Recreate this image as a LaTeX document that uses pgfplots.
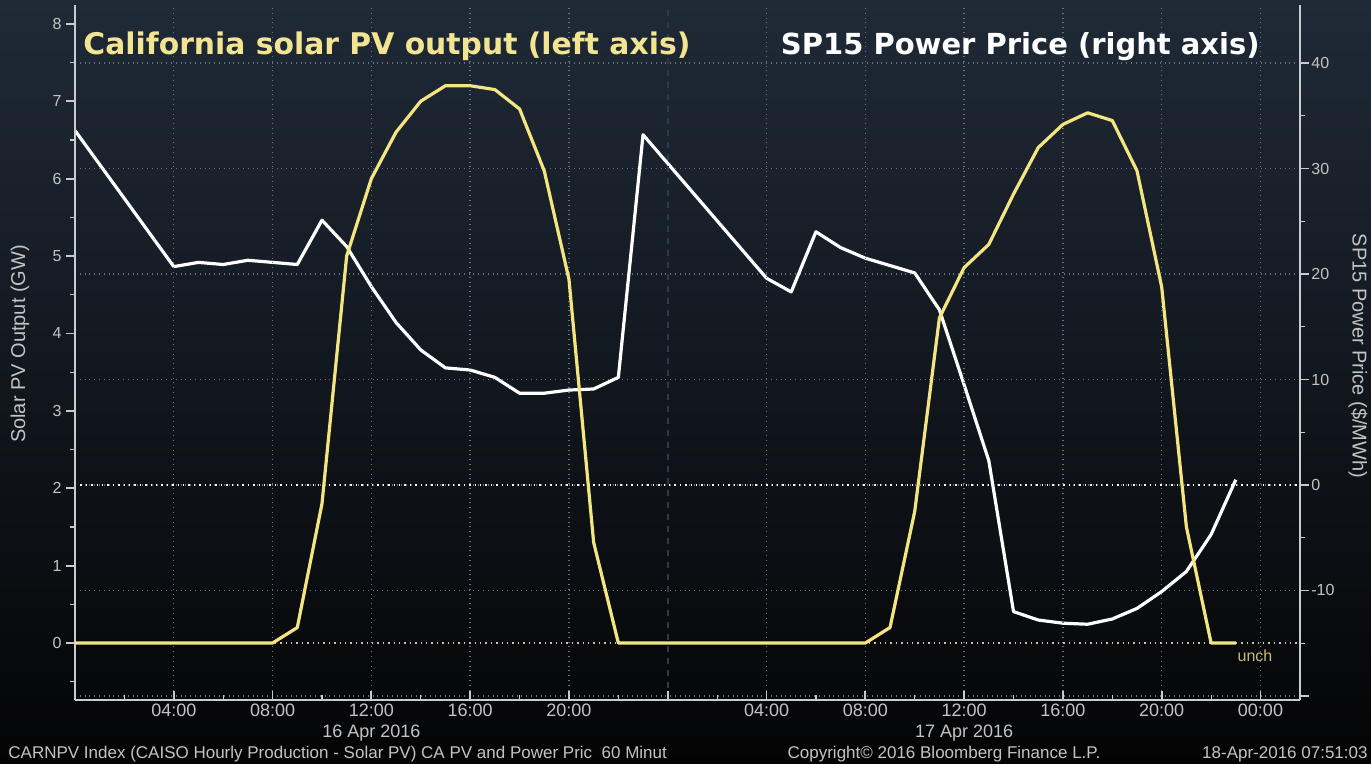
\documentclass[border=0pt]{standalone}
\usepackage{pgfplots}
\pgfplotsset{compat=1.18}
\usepackage{pgfplotstable}
\usepackage{fontspec}
\setmainfont{Liberation Sans}
\newfontfamily\ttlfont{DejaVu Sans}
\definecolor{bgtop}{RGB}{31,42,55}
\definecolor{bgmid}{RGB}{18,24,31}
\definecolor{bgbot}{RGB}{4,4,5}
\definecolor{solar}{RGB}{244,229,128}
\definecolor{ttlyel}{RGB}{242,228,145}
\definecolor{txtgray}{RGB}{195,195,195}
\definecolor{axgray}{RGB}{200,204,208}
\definecolor{gridc}{RGB}{105,114,125}
\definecolor{unchc}{RGB}{200,188,115}

\pgfplotstableread{
h pv
0 0
1 0
2 0
3 0
4 0
5 0
6 0
7 0
8 0
9 0.2
10 1.8
11 5.0
12 6.0
13 6.6
14 7.0
15 7.2
16 7.2
17 7.15
18 6.9
19 6.1
20 4.7
21 1.3
22 0
23 0
24 0
25 0
26 0
27 0
28 0
29 0
30 0
31 0
32 0
33 0.2
34 1.7
35 4.2
36 4.85
37 5.15
38 5.8
39 6.4
40 6.7
41 6.85
42 6.75
43 6.1
44 4.6
45 1.5
46 0
47 0
}\solartable

\pgfplotstableread{
h price
0 33.6
4 20.7
5 21.1
6 20.9
7 21.3
8 21.1
9 20.9
10 25.1
11 22.6
12 18.8
13 15.4
14 12.8
15 11.1
16 10.9
17 10.2
18 8.7
19 8.7
20 9.0
21 9.1
22 10.2
23 33.2
28 19.6
29 18.3
30 24.0
31 22.5
32 21.5
33 20.8
34 20.1
35 16.6
36 9.5
37 2.3
38 -12.0
39 -12.8
40 -13.1
41 -13.2
42 -12.7
43 -11.7
44 -10.1
45 -8.2
46 -4.7
47 0.5
}\pricetable

\begin{document}
\begin{tikzpicture}
\shade[top color=bgtop, middle color=bgmid, bottom color=bgbot] (-37.5pt,-32pt) rectangle (648pt,350pt);

\pgfplotsset{
  common/.style={
    scale only axis, width=612.5pt, height=347.5pt,
    xmin=0, xmax=49.6,
    at={(0pt,0pt)}, anchor=south west,
    axis line style={axgray, line width=0.8pt, -},
    major tick style={axgray, line width=0.9pt},
    minor tick style={axgray, line width=0.6pt},
    major tick length=4.5pt, minor tick length=2.5pt,
    tick label style={color=txtgray},
    /pgf/number format/assume math mode=true,
  }
}

% price axis (right)
\begin{axis}[common,
  ymin=-20.38, ymax=45.5,
  axis x line=none, axis y line*=right,
  ytick={-20,-10,0,10,20,30,40},
  yticklabels={,-10,0,10,20,30,40},
  minor ytick={-15,-5,5,15,25,35},
  ytick align=outside,
  yticklabel style={font=\fontsize{8}{9}\selectfont, anchor=west, inner sep=0pt, xshift=1pt},
  ymajorgrids, major grid style={dotted, gridc, line width=0.7pt},
  extra y ticks={0}, extra y tick labels={},
  extra y tick style={major grid style={dotted, white, line width=0.9pt}},
]
\addplot[white, line width=1.6pt, line join=round] table[x=h, y=price]{\pricetable};
\end{axis}

% solar axis (left)
\begin{axis}[common,
  ymin=-0.736, ymax=8.243,
  axis x line*=bottom, axis y line*=left,
  xtick={4,8,12,16,20,28,32,36,40,44,48},
  xticklabels={04:00,08:00,12:00,16:00,20:00,04:00,08:00,12:00,16:00,20:00,00:00},
  minor xtick={2,6,10,14,18,22,26,30,34,38,42,46},
  xtick align=inside,
  xticklabel style={font=\fontsize{9}{10}\selectfont, anchor=north, inner sep=0pt, yshift=-2pt},
  xmajorgrids, major grid style={dotted, gridc, line width=0.7pt},
  ytick={0,1,...,8},
  yticklabels={0,1,2,3,4,5,6,7,8},
  minor ytick={-0.5,0.5,1.5,2.5,3.5,4.5,5.5,6.5,7.5},
  ytick align=outside,
  yticklabel style={font=\fontsize{8}{9}\selectfont, anchor=east, inner sep=0pt, xshift=-2pt},
  extra x ticks={24}, extra x tick labels={},
  extra x tick style={major grid style={dashed, gridc!140, line width=0.8pt}},
  extra y ticks={0}, extra y tick labels={},
  extra y tick style={ymajorgrids, major grid style={dotted, solar!70!gray, line width=0.8pt}},
]
\addplot[solar, line width=1.6pt, line join=round] table[x=h, y=pv]{\solartable};
\end{axis}

% titles
\node[anchor=base west, inner sep=0pt, text=ttlyel, font=\ttlfont\bfseries\fontsize{14.9}{16}\selectfont] at (4pt,322.5pt) {California solar PV output (left axis)};
\node[anchor=base east, inner sep=0pt, text=white, font=\ttlfont\bfseries\fontsize{14.5}{16}\selectfont] at (592.5pt,322.5pt) {SP15 Power Price (right axis)};

% axis titles
\node[rotate=90, inner sep=0pt, text=txtgray, font=\fontsize{10}{12}\selectfont] at (-27.5pt,178pt) {Solar PV Output (GW)};
\node[rotate=-90, inner sep=0pt, text=txtgray, font=\fontsize{10}{12}\selectfont] at (641.5pt,172pt) {SP15 Power Price (\$/MWh)};

% date labels
\node[anchor=base, inner sep=0pt, text=txtgray, font=\fontsize{9}{10}\selectfont] at (148.2pt,-19pt) {16 Apr 2016};
\node[anchor=base, inner sep=0pt, text=txtgray, font=\fontsize{9}{10}\selectfont] at (444.6pt,-19pt) {17 Apr 2016};

% unch
\node[anchor=base, inner sep=0pt, text=unchc, font=\fontsize{8}{9}\selectfont] at (590pt,19pt) {unch};

% footer
\node[anchor=base west, inner sep=0pt, text=txtgray, font=\fontsize{8.5}{10}\selectfont] at (-33.5pt,-29.5pt) {CARNPV Index (CAISO Hourly Production - Solar PV) CA PV and Power Pric\ \ 60 Minut};
\node[anchor=base, inner sep=0pt, text=txtgray, font=\fontsize{8.5}{10}\selectfont] at (434.5pt,-29.5pt) {Copyright© 2016 Bloomberg Finance L.P.};
\node[anchor=base east, inner sep=0pt, text=txtgray, font=\fontsize{8.5}{10}\selectfont] at (646.5pt,-29.5pt) {18-Apr-2016 07:51:03};

\pgfresetboundingbox
\path[use as bounding box] (-37.5pt,-32pt) rectangle (648pt,350pt);
\end{tikzpicture}
\end{document}
